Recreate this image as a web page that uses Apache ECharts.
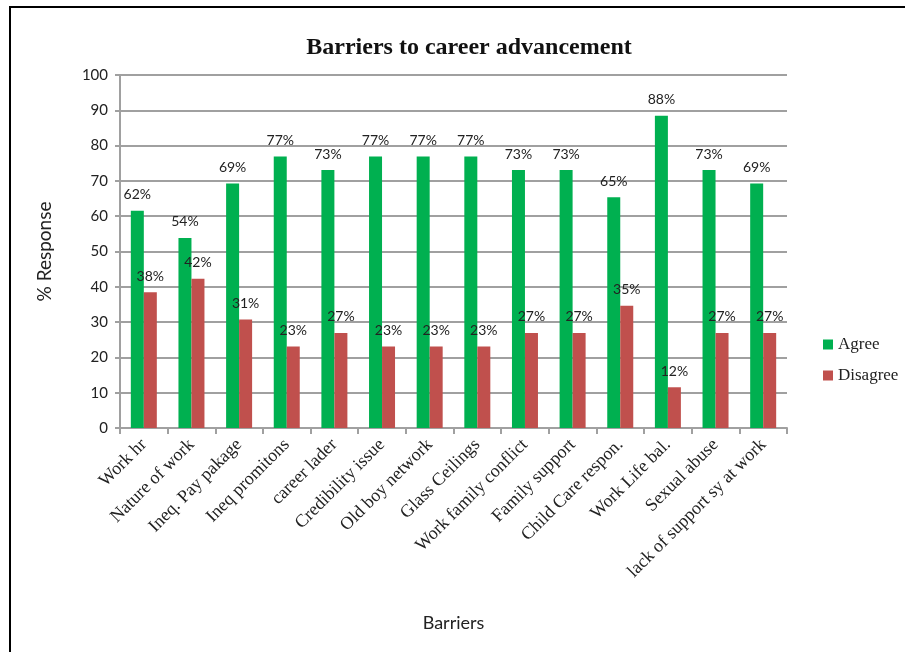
<!DOCTYPE html>
<html>
<head>
<meta charset="utf-8">
<script src="https://cdn.jsdelivr.net/npm/echarts@6/dist/echarts.min.js"></script>
<style>
  html, body { margin: 0; padding: 0; background: #fff; }
  #chart { width: 905px; height: 652px; }
</style>
</head>
<body>
<div id="chart"></div>
<script>
// Survey categories
const barriers = [
  'Work hr', 'Nature of work', 'Ineq. Pay pakage', 'Ineq promitons', 'career lader',
  'Credibility issue', 'Old boy network', 'Glass Ceilings', 'Work family conflict',
  'Family support', 'Child Care respon.', 'Work Life bal.', 'Sexual abuse',
  'lack of support sy at work'
];
// Share of respondents (%)
const agree = [61.54, 53.85, 69.23, 76.92, 73.08, 76.92, 76.92, 76.92, 73.08, 73.08, 65.38, 88.46, 73.08, 69.23];
const disagree = [38.46, 42.31, 30.77, 23.08, 26.92, 23.08, 23.08, 23.08, 26.92, 26.92, 34.62, 11.54, 26.92, 26.92];
const seriesNames = ['Agree', 'Disagree'];

const sans = 'Lato, "Open Sans", sans-serif';
const serif = '"Liberation Serif", "DejaVu Serif", serif';
const gridGray = '#a0a0a0';

const chart = echarts.init(document.getElementById('chart'), null, { renderer: 'canvas' });

const pctLabel = {
  show: true,
  position: 'top',
  distance: 9,
  fontFamily: sans,
  fontSize: 14,
  color: '#222',
  formatter: p => Math.round(p.value) + '%'
};

chart.setOption({
  animation: false,
  backgroundColor: '#fff',
  title: {
    text: 'Barriers to career advancement',
    left: 464,
    textAlign: 'center',
    top: 31,
    textStyle: { fontFamily: serif, fontWeight: 'bold', fontSize: 24, color: '#111' }
  },
  legend: {
    data: seriesNames,
    orient: 'vertical',
    left: 818,
    top: 331,
    itemWidth: 10,
    itemHeight: 10,
    itemGap: 14,
    icon: 'rect',
    textStyle: { fontFamily: serif, fontSize: 17, color: '#222' }
  },
  grid: { left: 120, right: 118, top: 75, bottom: 224, containLabel: false },
  xAxis: {
    type: 'category',
    data: barriers,
    name: 'Barriers',
    nameLocation: 'middle',
    nameGap: 186,
    nameTextStyle: { fontFamily: sans, fontSize: 18, color: '#222' },
    axisLine: { lineStyle: { color: gridGray, width: 2 } },
    axisTick: { show: true, length: 6, lineStyle: { color: gridGray, width: 2 } },
    axisLabel: {
      rotate: 45,
      interval: 0,
      margin: 14,
      fontFamily: serif,
      fontSize: 18,
      color: '#222'
    }
  },
  yAxis: {
    type: 'value',
    min: 0,
    max: 100,
    interval: 10,
    name: '% Response',
    nameLocation: 'middle',
    nameGap: 66,
    nameTextStyle: { fontFamily: sans, fontSize: 19, color: '#222' },
    axisLine: { show: true, lineStyle: { color: gridGray, width: 2 } },
    axisTick: { show: true, length: 5, lineStyle: { color: gridGray, width: 2 } },
    splitLine: { lineStyle: { color: gridGray, width: 2 } },
    axisLabel: { fontFamily: sans, fontSize: 15, color: '#222', margin: 12 }
  },
  series: [
    {
      name: seriesNames[0],
      type: 'bar',
      data: agree,
      barWidth: 13,
      barGap: '0%',
      itemStyle: { color: '#00B050' },
      label: pctLabel
    },
    {
      name: seriesNames[1],
      type: 'bar',
      data: disagree,
      barWidth: 13,
      barGap: '0%',
      itemStyle: { color: '#C0504D' },
      label: pctLabel
    }
  ],
  graphic: [
    {
      type: 'rect',
      shape: { x: 10, y: 7, width: 950, height: 700 },
      style: { fill: 'none', stroke: '#000', lineWidth: 2 },
      silent: true
    }
  ]
});
</script>
</body>
</html>
